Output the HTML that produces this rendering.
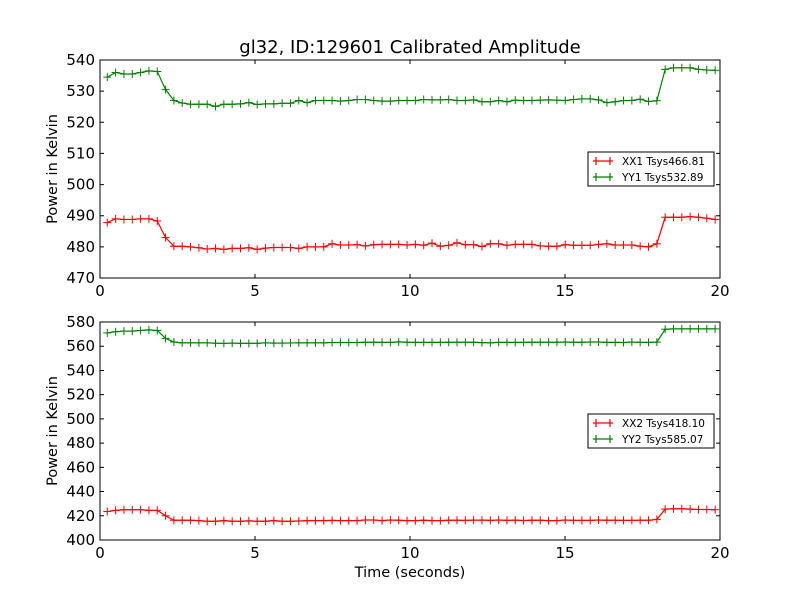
<!DOCTYPE html>
<html><head><meta charset="utf-8"><style>
body{margin:0;background:#fff;font-family:"DejaVu Sans","Liberation Sans",sans-serif}
svg text{font-family:"DejaVu Sans","Liberation Sans",sans-serif}
</style></head><body>
<svg id="chart" width="800" height="600" xmlns="http://www.w3.org/2000/svg">
<rect width="800" height="600" fill="#fff"/>
</svg>
<script>
const xx1=[487.8,489,488.8,488.8,489,489,488.3,483,480.2,480.2,480,479.7,479.3,479.5,479.2,479.5,479.5,479.7,479.2,479.6,479.8,479.8,479.8,479.5,480,480,480,481,480.6,480.6,480.7,480.3,480.7,480.8,480.8,480.8,480.6,480.8,480.5,481.2,480.2,480.5,481.3,480.7,480.7,480.1,481,481,480.5,480.8,480.8,480.8,480.3,480.2,480.2,480.7,480.5,480.5,480.5,480.8,481,480.6,480.6,480.6,480.2,480.0,481,489.5,489.5,489.5,489.7,489.5,489.2,488.8];
const yy1=[534.5,536,535.5,535.5,536,536.5,536.3,530.5,527,526.2,525.8,525.8,525.8,525.1,525.8,525.8,525.9,526.3,525.7,525.9,525.9,526.1,526.1,527,526.3,527,527,527,526.8,527,527.3,527.3,527,526.8,526.8,527,527,527,527.3,527.2,527.2,527.3,527,527,527.2,526.6,526.6,527,526.6,527.1,527,527,527.1,527.2,527.1,527,527.3,527.5,527.5,527.2,526.3,526.6,527,527,527.4,526.7,526.9,537,537.5,537.5,537.5,537,536.8,536.7];
const xx2=[423.5,424.5,425,425,425,424.5,424.5,420,416.3,416.3,416.3,416,415.5,415.5,416,415.5,415.5,415.8,415.5,415.5,416,415.5,415.5,415.7,416,416,416,416.2,416,416,416,416.5,416.5,416,416.5,416.3,416,416,416.3,416,416,416.3,416.3,416.2,416.4,416.4,416.2,416.5,416.2,416.4,416.1,416.3,416.3,416,416,416.5,416.2,416.2,416.2,416.5,416.3,416.3,416.2,416.2,416.3,416.3,417,425.5,425.8,425.8,425.5,425.2,425.2,425];
const yy2=[571,572,572.5,572.5,573,573.5,573,566.5,563.5,562.8,562.8,562.8,562.8,562.5,562.3,562.6,562.4,562.4,562.4,562.8,562.6,562.6,562.7,562.8,562.8,562.8,562.8,563.1,563.1,563.1,563.1,563.3,563.3,563.2,563.2,563.6,563.3,563.2,563.2,563.2,563.2,563.3,563.3,563.3,563.3,563.0,562.8,563.2,563.2,563.2,563.2,563.3,563.3,563.3,563.3,563.5,563.3,563.3,563.5,563.5,563.2,563.2,563.1,563.5,563.2,563.2,563.4,574,574.3,574.3,574.3,574.3,574.3,574.3];
const times=xx1.map((_,i)=>+(0.235+i*0.2686).toFixed(3));
const xTicks=[0,5,10,15,20];
const yTicksTop=[470,480,490,500,510,520,530,540];
const yTicksBot=[400,420,440,460,480,500,520,540,560,580];
const legendTop=["XX1 Tsys466.81","YY1 Tsys532.89"];
const legendBot=["XX2 Tsys418.10","YY2 Tsys585.07"];
const svg=document.getElementById('chart');
const NS="http://www.w3.org/2000/svg";
function mk(tag,attrs,parent){const e=document.createElementNS(NS,tag);for(const k in attrs)e.setAttribute(k,attrs[k]);(parent||svg).appendChild(e);return e;}
function panel(name,top,bottom,ymin,ymax,yticks,series,legend,legY){
  const L=100,R=720;
  const g=mk('g',{});
  
  
  const xs=v=>L+(v-0)/(20-0)*(R-L);
  const ys=v=>bottom-(v-ymin)/(ymax-ymin)*(bottom-top);
  const colors=['#ff0000','#008000'];
  series.forEach((s,si)=>{
    const pts=s.map((v,i)=>xs(times[i]).toFixed(2)+','+ys(v).toFixed(2)).join(' ');
    const pl=mk('polyline',{points:pts,fill:'none',stroke:colors[si],'stroke-width':1.2},g);
    
    
    s.forEach((v,i)=>{
      const x=xs(times[i]),y=ys(v);
      const m=mk('path',{d:`M${x-4},${y}H${x+4}M${x},${y-4}V${y+4}`,stroke:colors[si],'stroke-width':1},g);
      
      
    });
  });
  const fr=mk('rect',{x:L,y:top,width:R-L,height:bottom-top,fill:'none',stroke:'#000','stroke-width':1},g);
  
  
  xTicks.forEach(t=>{
    const x=xs(t);
    mk('path',{d:`M${x},${bottom}v-4M${x},${top}v4`,stroke:'#000'},g);
    const tx=mk('text',{x:x,y:bottom+18,'text-anchor':'middle','font-size':15},g);
    tx.textContent=t;
    
    
  });
  yticks.forEach(t=>{
    const y=ys(t);
    mk('path',{d:`M${L},${y}h4M${R},${y}h-4`,stroke:'#000'},g);
    const tx=mk('text',{x:L-5,y:y+5,'text-anchor':'end','font-size':15},g);
    tx.textContent=t;
    
    
  });
  const yl=mk('text',{x:0,y:0,'text-anchor':'middle','font-size':14.5,transform:`translate(57,${(top+bottom)/2}) rotate(-90)`},g);
  yl.textContent='Power in Kelvin';
  
  
  const lg=mk('g',{},g);
  
  
  mk('rect',{x:588,y:legY,width:126,height:34,fill:'#fff',stroke:'#000'},lg);
  legend.forEach((t,i)=>{
    const y=legY+9+i*16;
    mk('path',{d:`M593,${y}H613M596,${y-4}v8M610,${y-4}v8`,stroke:colors[i],'stroke-width':1.2},lg);
    const tx=mk('text',{x:622,y:y+4,'font-size':10.5},lg);
    tx.textContent=t;
    
    
  });
}
panel('top',60,278,470,540,yTicksTop,[xx1,yy1],legendTop,152);
panel('bottom',322,540,400,580,yTicksBot,[xx2,yy2],legendBot,414);
const title=mk('text',{x:410,y:53,'text-anchor':'middle','font-size':18});
title.textContent='gl32, ID:129601 Calibrated Amplitude';


const xl=mk('text',{x:410,y:577,'text-anchor':'middle','font-size':14.5});
xl.textContent='Time (seconds)';


</script>
</body></html>
